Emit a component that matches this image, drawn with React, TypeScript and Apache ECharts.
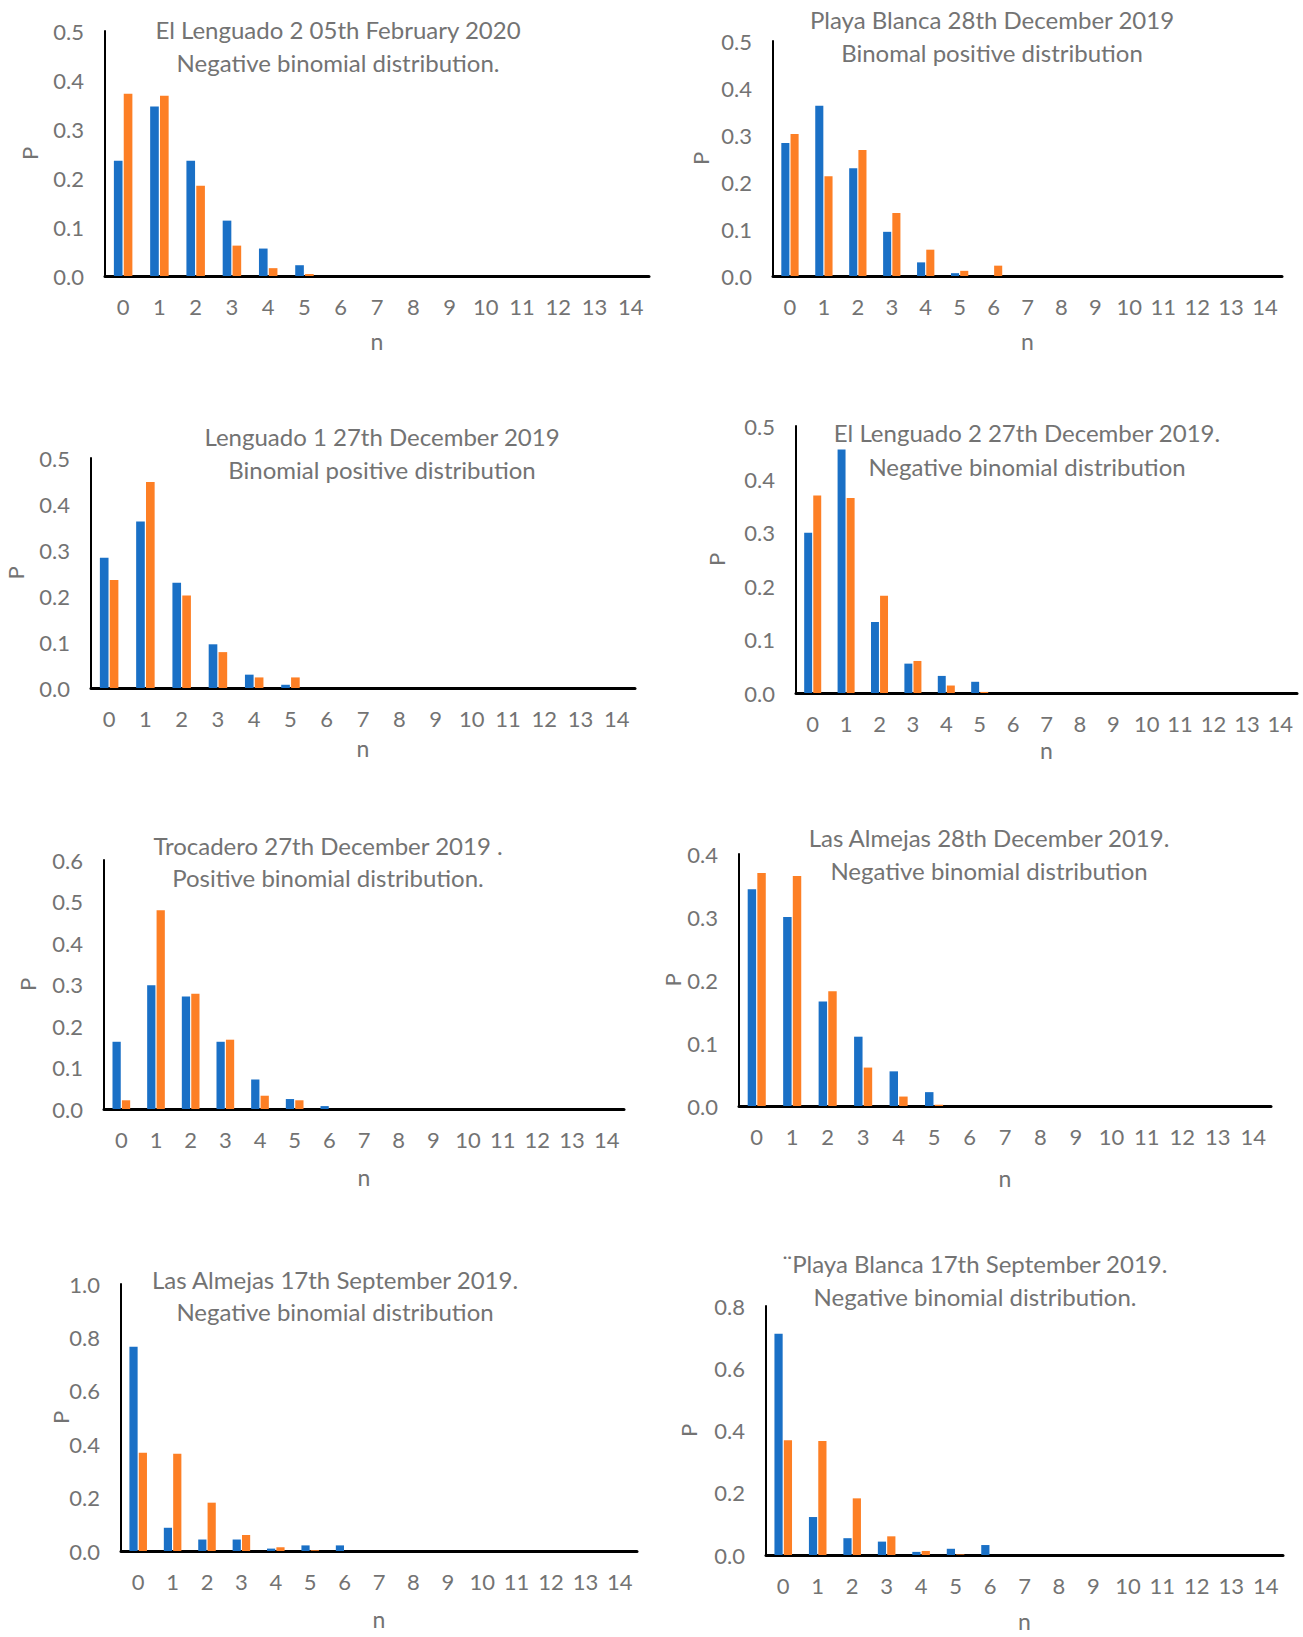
import React, { useEffect, useRef } from "react";
import * as echarts from "echarts";

// ---------- DATA ----------
const categories = ["0", "1", "2", "3", "4", "5", "6", "7", "8", "9", "10", "11", "12", "13", "14"];

const titleLines1 = [
  "El Lenguado 2 05th February 2020",
  "Playa Blanca 28th December 2019",
  "Lenguado 1 27th December 2019",
  "El Lenguado 2 27th December 2019.",
  "Trocadero 27th December 2019 .",
  "Las Almejas 28th December 2019.",
  "Las Almejas 17th September 2019.",
  "¨Playa Blanca 17th September 2019.",
];
const titleLines2 = [
  "Negative binomial distribution.",
  "Binomal positive distribution",
  "Binomial positive distribution",
  "Negative binomial distribution",
  "Positive binomial distribution.",
  "Negative binomial distribution",
  "Negative binomial distribution",
  "Negative binomial distribution.",
];

const yMax = [0.5, 0.5, 0.5, 0.5, 0.6, 0.4, 1.0, 0.8];
const yInterval = [0.1, 0.1, 0.1, 0.1, 0.1, 0.1, 0.2, 0.2];

const lenguado2Feb2020Observed = [0.235, 0.346, 0.235, 0.113, 0.056, 0.022, 0, 0, 0, 0, 0, 0, 0, 0, 0];
const lenguado2Feb2020Expected = [0.372, 0.368, 0.184, 0.062, 0.016, 0.004, 0, 0, 0, 0, 0, 0, 0, 0, 0];

const playaBlancaDec2019Observed = [0.283, 0.362, 0.229, 0.094, 0.029, 0.006, 0, 0, 0, 0, 0, 0, 0, 0, 0];
const playaBlancaDec2019Expected = [0.302, 0.212, 0.268, 0.134, 0.056, 0.011, 0.022, 0, 0, 0, 0, 0, 0, 0, 0];

const lenguado1Dec2019Observed = [0.283, 0.362, 0.229, 0.095, 0.029, 0.007, 0, 0, 0, 0, 0, 0, 0, 0, 0];
const lenguado1Dec2019Expected = [0.235, 0.448, 0.201, 0.078, 0.023, 0.023, 0, 0, 0, 0, 0, 0, 0, 0, 0];

const lenguado2Dec2019Observed = [0.300, 0.456, 0.133, 0.055, 0.032, 0.021, 0, 0, 0, 0, 0, 0, 0, 0, 0];
const lenguado2Dec2019Expected = [0.370, 0.365, 0.182, 0.060, 0.014, 0.002, 0, 0, 0, 0, 0, 0, 0, 0, 0];

const trocaderoDec2019Observed = [0.162, 0.298, 0.271, 0.162, 0.071, 0.024, 0.007, 0, 0, 0, 0, 0, 0, 0, 0];
const trocaderoDec2019Expected = [0.021, 0.479, 0.278, 0.167, 0.032, 0.021, 0, 0, 0, 0, 0, 0, 0, 0, 0];

const almejasDec2019Observed = [0.344, 0.300, 0.166, 0.110, 0.055, 0.022, 0, 0, 0, 0, 0, 0, 0, 0, 0];
const almejasDec2019Expected = [0.370, 0.365, 0.182, 0.061, 0.015, 0.002, 0, 0, 0, 0, 0, 0, 0, 0, 0];

const almejasSep2019Observed = [0.765, 0.087, 0.043, 0.043, 0.009, 0.021, 0.021, 0, 0, 0, 0, 0, 0, 0, 0];
const almejasSep2019Expected = [0.368, 0.364, 0.181, 0.060, 0.014, 0.003, 0, 0, 0, 0, 0, 0, 0, 0, 0];

const playaBlancaSep2019Observed = [0.711, 0.122, 0.054, 0.043, 0.010, 0.020, 0.032, 0, 0, 0, 0, 0, 0, 0, 0];
const playaBlancaSep2019Expected = [0.369, 0.366, 0.182, 0.060, 0.013, 0.002, 0, 0, 0, 0, 0, 0, 0, 0, 0];

const observedSeries = [
  lenguado2Feb2020Observed,
  playaBlancaDec2019Observed,
  lenguado1Dec2019Observed,
  lenguado2Dec2019Observed,
  trocaderoDec2019Observed,
  almejasDec2019Observed,
  almejasSep2019Observed,
  playaBlancaSep2019Observed,
];
const expectedSeries = [
  lenguado2Feb2020Expected,
  playaBlancaDec2019Expected,
  lenguado1Dec2019Expected,
  lenguado2Dec2019Expected,
  trocaderoDec2019Expected,
  almejasDec2019Expected,
  almejasSep2019Expected,
  playaBlancaSep2019Expected,
];

// ---------- LAYOUT ----------
const layouts = [
  { left: 105, top: 31, right: 649, bottom: 276, tx: 338, t1: 29, t2: 62, px: 29, ny: 341 },
  { left: 773, top: 41, right: 1282, bottom: 276, tx: 992, t1: 19, t2: 52, px: 700, ny: 341 },
  { left: 91, top: 458, right: 635, bottom: 688, tx: 382, t1: 436, t2: 469, px: 15, ny: 748 },
  { left: 796, top: 426, right: 1297, bottom: 693, tx: 1027, t1: 432, t2: 466, px: 716, ny: 750 },
  { left: 104, top: 860, right: 624, bottom: 1109, tx: 328, t1: 845, t2: 877, px: 27, ny: 1177 },
  { left: 739, top: 854, right: 1271, bottom: 1106, tx: 989, t1: 837, t2: 870, px: 672, ny: 1178 },
  { left: 121, top: 1284, right: 637, bottom: 1551, tx: 335, t1: 1279, t2: 1311, px: 60, ny: 1619 },
  { left: 766, top: 1306, right: 1283, bottom: 1555, tx: 975, t1: 1263, t2: 1296, px: 688, ny: 1621 },
];

const TEXT = "#737373";
const FONT = "Lato, 'Open Sans', sans-serif";
const BLUE = "#1A70C6";
const ORANGE = "#FD7F25";

export default function App() {
  const ref = useRef<HTMLDivElement>(null);

  useEffect(() => {
    document.body.style.margin = "0";
    if (!ref.current) return;
    const chart = echarts.init(ref.current, null, { renderer: "svg" });

    const grid = layouts.map((l) => ({
      left: l.left,
      top: l.top,
      width: l.right - l.left,
      height: l.bottom - l.top,
      containLabel: false,
    }));

    const xAxis = layouts.map((_, i) => ({
      type: "category",
      gridIndex: i,
      data: categories,
      axisLine: { show: true, lineStyle: { color: "#000", width: 3 } },
      axisTick: { show: false },
      splitLine: { show: false },
      axisLabel: { color: TEXT, fontSize: 22, margin: 19, interval: 0, fontFamily: FONT },
    }));

    const yAxis = layouts.map((_, i) => ({
      type: "value",
      gridIndex: i,
      min: 0,
      max: yMax[i],
      interval: yInterval[i],
      axisLine: { show: true, lineStyle: { color: "#000", width: 2 } },
      axisTick: { show: false },
      splitLine: { show: false },
      axisLabel: {
        color: TEXT,
        fontSize: 22,
        margin: 21,
        fontFamily: FONT,
        formatter: (v: number) => v.toFixed(1),
      },
    }));

    const series: any[] = [];
    layouts.forEach((_, i) => {
      series.push({
        type: "bar",
        name: "Observed",
        xAxisIndex: i,
        yAxisIndex: i,
        data: observedSeries[i],
        barCategoryGap: "49%",
        barGap: "14%",
        itemStyle: { color: BLUE },
      });
      series.push({
        type: "bar",
        name: "Expected",
        xAxisIndex: i,
        yAxisIndex: i,
        data: expectedSeries[i],
        barCategoryGap: "49%",
        barGap: "14%",
        itemStyle: { color: ORANGE },
      });
    });

    const graphic: any[] = [];
    layouts.forEach((l, i) => {
      graphic.push({
        type: "text",
        x: l.tx,
        y: l.t1,
        style: { text: titleLines1[i], fill: TEXT, font: `24px ${FONT}`, align: "center", verticalAlign: "middle" },
      });
      graphic.push({
        type: "text",
        x: l.tx,
        y: l.t2,
        style: { text: titleLines2[i], fill: TEXT, font: `24px ${FONT}`, align: "center", verticalAlign: "middle" },
      });
      graphic.push({
        type: "text",
        x: l.px,
        y: (l.top + l.bottom) / 2,
        rotation: Math.PI / 2,
        style: { text: "P", fill: TEXT, font: `22px ${FONT}`, align: "center", verticalAlign: "middle" },
      });
      graphic.push({
        type: "text",
        x: (l.left + l.right) / 2,
        y: l.ny,
        style: { text: "n", fill: TEXT, font: `23px ${FONT}`, align: "center", verticalAlign: "middle" },
      });
    });

    chart.setOption({
      animation: false,
      backgroundColor: "#fff",
      grid,
      xAxis,
      yAxis,
      series,
      graphic,
    });

    return () => chart.dispose();
  }, []);

  return <div ref={ref} style={{ width: 1303, height: 1637 }} />;
}
